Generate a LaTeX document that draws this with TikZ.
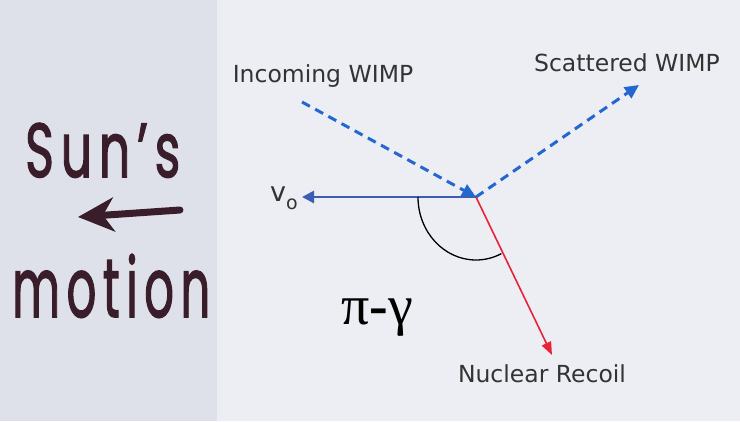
\documentclass[tikz,border=0pt]{standalone}
\usepackage{fontspec}
\setmainfont{DejaVu Sans}
\newfontfamily\serifgr{Liberation Serif}
\newfontfamily\handfont[FakeBold=2,LetterSpace=14]{Poppins}
\usetikzlibrary{arrows.meta}
\definecolor{leftbg}{HTML}{DEE1E9}
\definecolor{rightbg}{HTML}{ECEEF3}
\definecolor{wimpblue}{HTML}{2368D0}
\definecolor{velblue}{HTML}{3C5DB4}
\definecolor{recoilred}{HTML}{E82238}
\definecolor{ink}{HTML}{3A1D2A}
\definecolor{labelgray}{HTML}{333333}
\tikzset{
  lbl/.style={text=labelgray, font=\fontsize{23.5}{26}\selectfont, inner sep=0pt},
  wimp/.style={draw=wimpblue, line width=3pt, dash pattern=on 9pt off 6pt,
    -{Triangle[length=14pt,width=13pt]}},
  vel/.style={draw=velblue, line width=2.8pt, -{Triangle[length=12pt,width=12pt]}},
  recoil/.style={draw=recoilred, line width=1.6pt, -{Triangle[length=13pt,width=10pt]}},
  hand/.style={text=ink, inner sep=0pt},
}
\begin{document}
\begin{tikzpicture}[x=1pt,y=-1pt]
\fill[rightbg] (0,0) rectangle (740,421);
\fill[leftbg] (0,0) rectangle (217,421);
\useasboundingbox (0,0) rectangle (740,421);

% vertex and ends
\coordinate (O) at (476,197);
\coordinate (inS) at (302,102);
\coordinate (scE) at (639,85);
\coordinate (vE) at (302,197);
\coordinate (rE) at (552,355);

\draw[wimp] (inS) -- (O);
\draw[wimp] (O) -- (scE);
\draw[vel] (O) -- (vE);
\draw[recoil] (O) -- (rE);

\coordinate (arcS) at (418,197);
\draw[black, line width=1.3pt] (arcS) arc[start angle=180, end angle=64, x radius=58, y radius=63];

% labels
\node[lbl] (incoming) at (323,76) {Incoming WIMP};
\node[lbl] (scattered) at (627,63) {Scattered WIMP};
\node[lbl] (recoil) at (542,374) {Nuclear Recoil};
\node[lbl, anchor=east] (v0) at (298,198) {{\fontsize{27}{27}\selectfont v}{\fontsize{19}{19}\selectfont\raisebox{-8pt}{o}}};
\node[inner sep=0pt] (pig) at (377,318) {\serifgr\fontsize{56}{56}\selectfont π\textbf{-}γ};

% handwritten side
\node[hand, anchor=base west] (sun) at (25,177) {\resizebox{155pt}{54pt}{\handfont Sun’s}};
\node[hand, anchor=base west] (motion) at (12,317) {\resizebox{198pt}{63pt}{\handfont motion}};
\coordinate (hT) at (180,210);
\coordinate (hH) at (78,217);
\draw[ink, line width=7pt, line cap=round, -{Stealth[length=36pt,width=34pt,inset=11pt]}] (hT) -- (hH);
\end{tikzpicture}
\end{document}
